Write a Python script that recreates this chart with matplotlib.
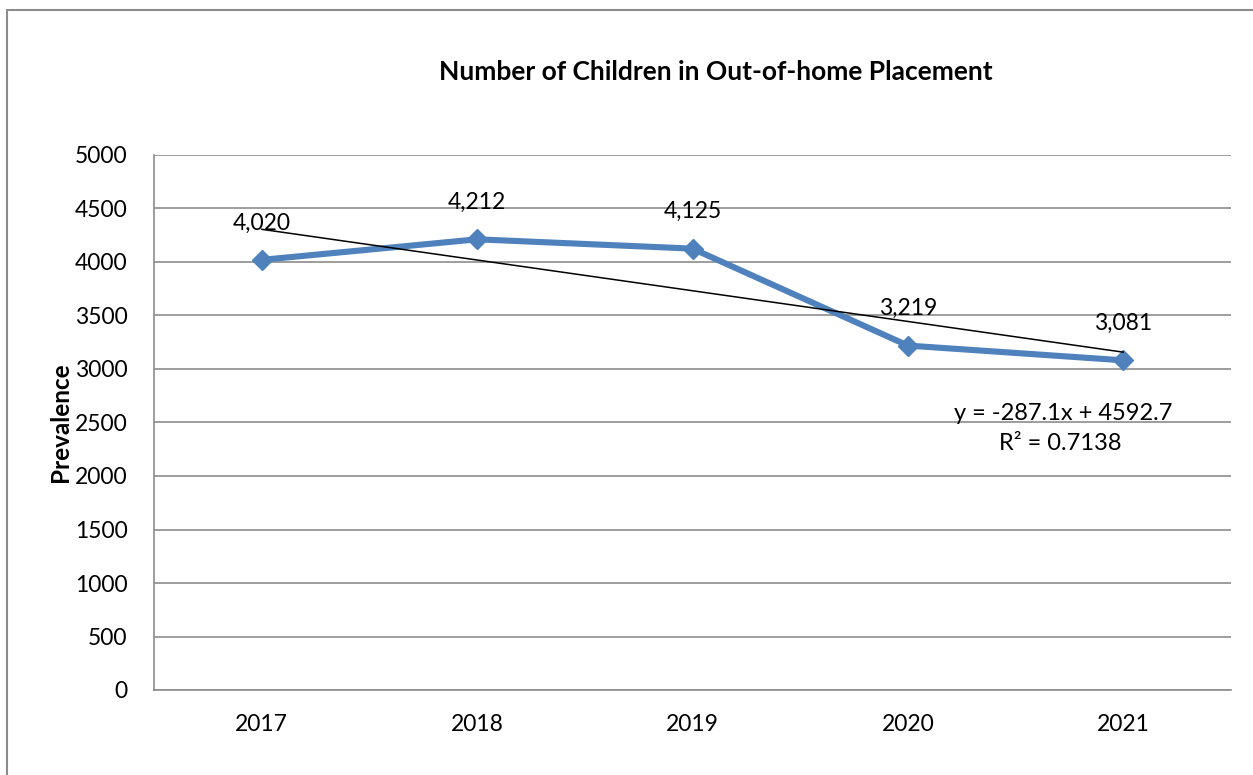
import matplotlib.pyplot as plt
import matplotlib.patches as mpatches
import numpy as np

plt.rcParams['font.family'] = ['Lato', 'DejaVu Sans']

years = ['2017', '2018', '2019', '2020', '2021']
counts = [4020, 4212, 4125, 3219, 3081]

fig = plt.figure(figsize=(12.53, 7.75), dpi=100)
ax = fig.add_axes([154 / 1253, 85 / 775, 1077 / 1253, 535 / 775])

x = np.arange(len(years))
ax.plot(x, counts, color='#4F81BD', lw=4.4, marker='D', ms=10, zorder=3)

# linear trend line (Excel style, x = 1..n)
xs = x + 1
slope, icpt = np.polyfit(xs, counts, 1)
fit = slope * xs + icpt
r2 = 1 - np.sum((np.array(counts) - fit) ** 2) / np.sum((np.array(counts) - np.mean(counts)) ** 2)
ax.plot([x[0], x[-1]], [fit[0], fit[-1]], color='black', lw=1.1, zorder=4)

for i, v in enumerate(counts):
    ax.annotate(f'{v:,}', (x[i], v), xytext=(0, 26.5), textcoords='offset points',
                ha='center', va='center', fontsize=16.5)

ax.text(0.844, 0.517, f'y = {slope:.1f}x + {icpt:.1f}', transform=ax.transAxes,
        ha='center', va='center', fontsize=17)
ax.text(0.841, 0.461, f'R\u00b2 = {r2:.4f}', transform=ax.transAxes,
        ha='center', va='center', fontsize=17)

ax.set_xlim(-0.5, len(years) - 0.5)
ax.set_ylim(0, 5000)
ax.set_yticks(np.arange(0, 5001, 500))
ax.set_xticks(x)
ax.set_xticklabels(years)
ax.tick_params(axis='both', length=0, labelsize=16.5, colors='black')
ax.tick_params(axis='x', pad=17)
ax.tick_params(axis='y', pad=19)
ax.grid(axis='y', color='#8c8c8c', lw=1.2)
ax.set_axisbelow(True)
for s in ['top', 'right']:
    ax.spines[s].set_visible(False)
for s in ['left', 'bottom']:
    ax.spines[s].set_color('#8c8c8c')
    ax.spines[s].set_linewidth(1.2)

fig.text(60 / 1253, 1 - 422 / 775, 'Prevalence', rotation=90, ha='center', va='center',
         fontsize=17.5, fontweight='bold')
fig.text(716 / 1253, 1 - 72 / 775, 'Number of Children in Out-of-home Placement',
         ha='center', va='center', fontsize=19, fontweight='bold')

# chart area border
fig.patches.append(mpatches.Rectangle((7 / 1253, -0.1), 1.2, 1 - 10 / 775 + 0.1,
                                      transform=fig.transFigure, fill=False,
                                      edgecolor='#8c8c8c', lw=1.5))

plt.savefig('out.png', dpi=100)
